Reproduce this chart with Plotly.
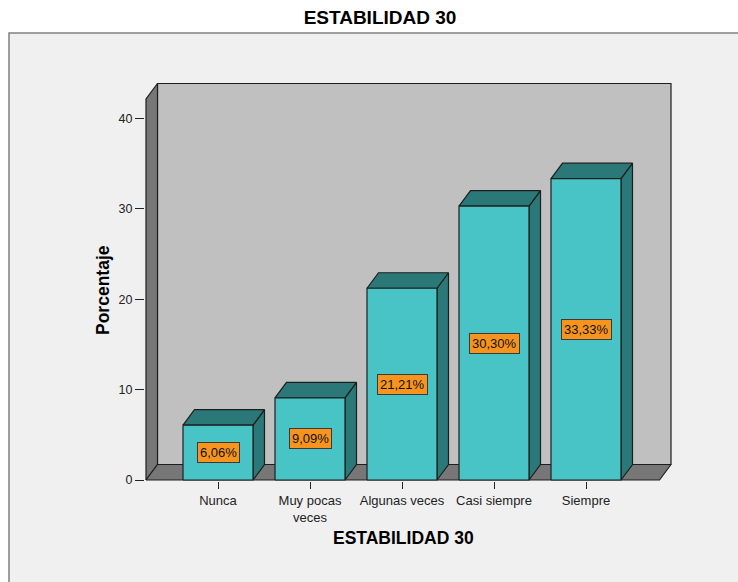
import plotly.graph_objects as go

# ---------------- data ----------------
categories = ["Nunca", "Muy pocas<br>veces", "Algunas veces", "Casi siempre", "Siempre"]
percentages = [6.06, 9.09, 21.21, 30.30, 33.33]
y_ticks = [0, 10, 20, 30, 40]
title_text = "ESTABILIDAD 30"
y_title = "Porcentaje"

# ---------------- styling / geometry (pixels -> axis units) ----------------
W, H = 738, 582
PX_PER_CAT = 92.0          # pixels between category centres
PX_PER_PCT = 9.04          # pixels per percent
CAT0_PX = 218              # pixel x of first category centre
ZERO_PX = 480              # pixel y of value 0
PLOT_L, PLOT_R, PLOT_T, PLOT_B = 145, 672, 83, 481

def xu(px):
    return (px - CAT0_PX) / PX_PER_CAT

def yu(py):
    return (ZERO_PX - py) / PX_PER_PCT

X_RANGE = [xu(PLOT_L), xu(PLOT_R)]
Y_RANGE = [yu(PLOT_B), yu(PLOT_T)]

DX = 11.5 / PX_PER_CAT     # depth offset in x units
DY = 15.5 / PX_PER_PCT     # depth offset in y units
X0 = xu(146)               # front-left wall edge
XR = xu(659.5)             # front-right floor edge
YTOP_F = yu(99)            # front top of left wall
HW = 35 / PX_PER_CAT       # bar half width

C_BACK = "#c0c0c0"
C_SIDE = "#777777"
C_FRONT = "#48c3c6"
C_DARK = "#2b7878"
C_EDGE = "#1e1e1e"
C_LABEL = "#f7941d"
FONT = "Arial, Liberation Sans, sans-serif"

fig = go.Figure()

def poly(xs, ys, fill):
    fig.add_trace(go.Scatter(
        x=xs + [xs[0]], y=ys + [ys[0]], mode="lines", fill="toself",
        fillcolor=fill, line=dict(color=C_EDGE, width=1.2),
        hoverinfo="skip", showlegend=False))

# walls
poly([X0 + DX, XR + DX, XR + DX, X0 + DX], [DY, DY, YTOP_F + DY, YTOP_F + DY], C_BACK)
poly([X0, X0 + DX, X0 + DX, X0], [0, DY, YTOP_F + DY, YTOP_F], C_SIDE)
poly([X0, XR, XR + DX, X0 + DX], [0, 0, DY, DY], C_SIDE)

# bars
for i, v in enumerate(percentages):
    xl, xr = i - HW, i + HW
    poly([xr, xr + DX, xr + DX, xr], [0, DY, v + DY, v], C_DARK)          # side
    poly([xl, xr, xr + DX, xl + DX], [v, v, v + DY, v + DY], C_DARK)      # top
    poly([xl, xr, xr, xl], [0, 0, v, v], C_FRONT)                         # front

annotations = []
for i, v in enumerate(percentages):
    annotations.append(dict(
        x=i, y=v / 2, xref="x", yref="y", showarrow=False,
        xanchor="center", yanchor="middle",
        text=f"{v:.2f}".replace(".", ",") + "%",
        font=dict(family=FONT, size=13, color="#111111"),
        bgcolor=C_LABEL, bordercolor="#3a3a3a", borderwidth=1, borderpad=2))

pw = PLOT_R - PLOT_L
ph = PLOT_B - PLOT_T
def xp(px):
    return (px - PLOT_L) / pw
def yp(py):
    return (PLOT_B - py) / ph

annotations.append(dict(
    x=xp(103), y=yp(290), xref="paper", yref="paper", showarrow=False,
    xanchor="center", yanchor="middle",
    text=f"<b>{y_title}</b>", textangle=-90,
    font=dict(family=FONT, size=17.5, color="#000000")))
annotations.append(dict(
    x=xp(403), y=yp(538), xref="paper", yref="paper", showarrow=False,
    xanchor="center", yanchor="middle",
    text=f"<b>{title_text}</b>",
    font=dict(family=FONT, size=17.5, color="#000000")))

shapes = [dict(
    type="rect", xref="paper", yref="paper", layer="below",
    x0=xp(9), x1=xp(800), y0=yp(640), y1=yp(33),
    fillcolor="#f0f0f0", line=dict(color="#808080", width=1.5))]

fig.update_layout(
    width=W, height=H,
    margin=dict(l=PLOT_L, r=W - PLOT_R, t=PLOT_T, b=H - PLOT_B, pad=0),
    paper_bgcolor="white", plot_bgcolor="rgba(0,0,0,0)",
    title=dict(text=f"<b>{title_text}</b>", x=380 / W, y=1 - 17 / H,
               xanchor="center", yanchor="middle", xref="container", yref="container",
               font=dict(family=FONT, size=19, color="#000000")),
    xaxis=dict(range=X_RANGE, showgrid=False, zeroline=False, showline=False,
               tickmode="array", tickvals=list(range(len(categories))), ticktext=categories,
               ticks="outside", ticklen=7, tickcolor="#222222", tickwidth=1,
               tickfont=dict(family=FONT, size=13, color="#222222"), fixedrange=True),
    yaxis=dict(range=Y_RANGE, showgrid=False, zeroline=False, showline=False,
               tickmode="array", tickvals=y_ticks,
               ticks="outside", ticklen=9, tickcolor="#222222", tickwidth=1,
               tickfont=dict(family=FONT, size=12.5, color="#222222"), fixedrange=True),
    annotations=annotations, shapes=shapes, showlegend=False,
)

fig.write_html("out.html")
